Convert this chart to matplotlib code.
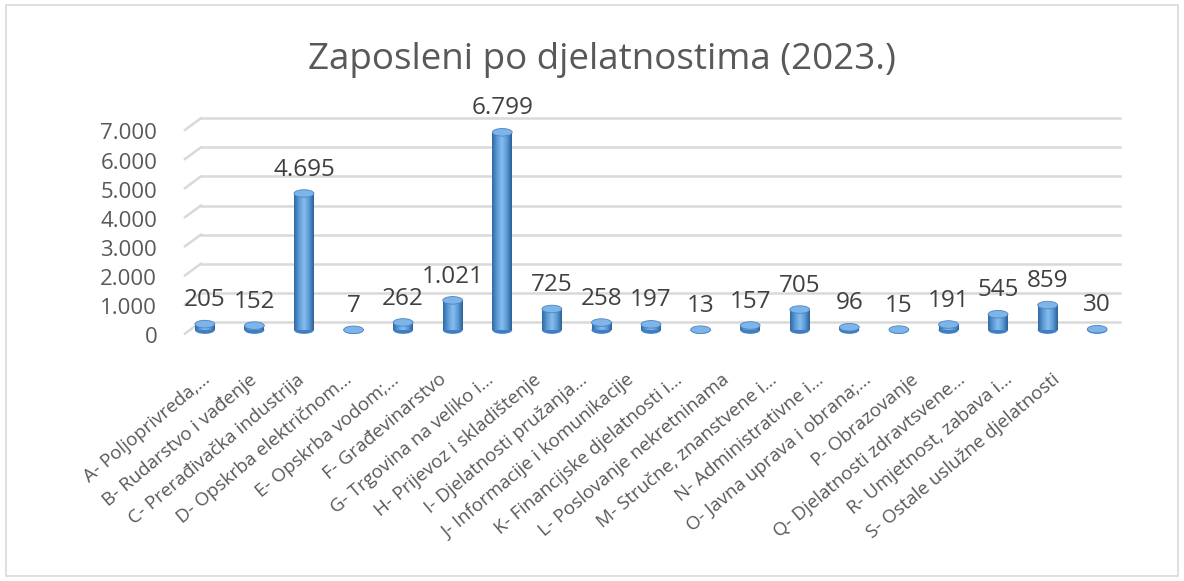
import numpy as np
import matplotlib.pyplot as plt
import matplotlib.transforms as mtransforms
from matplotlib.patches import Ellipse, Rectangle
from matplotlib.colors import LinearSegmentedColormap

categories = [
    "A- Poljoprivreda,…", "B- Rudarstvo i vađenje", "C- Prerađivačka industrija",
    "D- Opskrba električnom…", "E- Opskrba vodom;…", "F- Građevinarstvo",
    "G- Trgovina na veliko i…", "H- Prijevoz i skladištenje", "I- Djelatnosti pružanja…",
    "J- Informacije i komunikacije", "K- Financijske djelatnosti i…",
    "L- Poslovanje nekretninama", "M- Stručne, znanstvene i…",
    "N- Administrativne i…", "O- Javna uprava i obrana;…", "P- Obrazovanje",
    "Q- Djelatnosti zdravtsvene…", "R- Umjetnost, zabava i…", "S- Ostale uslužne djelatnosti",
]
employees = [205, 152, 4695, 7, 262, 1021, 6799, 725, 258, 197, 13, 157, 705, 96, 15, 191, 545, 859, 30]
y_ticks = [0, 1000, 2000, 3000, 4000, 5000, 6000, 7000]

text_color = "#595959"
plt.rcParams['font.family'] = ['Open Sans', 'DejaVu Sans']


def fmt(v):
    return f"{v:,}".replace(",", ".")


fig = plt.figure(figsize=(11.84, 5.81), dpi=100)
fig.patches.append(Rectangle((0.005, 0.008), 0.99, 0.984, transform=fig.transFigure,
                             fill=False, edgecolor="#d9d9d9", linewidth=1.2))

ax = fig.add_axes([185 / 1184, 0.4244, (1120 - 185) / 1184, 0.378])
ax.set_xlim(-0.40, 18.46)
ax.set_ylim(-150, 7400)

# floor/back grid with a small slant to imitate the 3D look
for v in y_ticks:
    ax.plot([-0.40, -0.08], [v - 120, v + 280], color="#d9d9d9", lw=1.8, clip_on=False, zorder=0)
    ax.plot([-0.08, 18.46], [v + 280, v + 280], color="#d9d9d9", lw=1.8, clip_on=False, zorder=0)

cyl = LinearSegmentedColormap.from_list("cyl", ["#2f6aa6", "#5b9bd5", "#86bdf0", "#5b9bd5", "#2c5f96"])
grad = np.linspace(0, 1, 64).reshape(1, -1)
w = 0.40
eh = 260

x = np.arange(len(categories))
for xi, v in zip(x, employees):
    ax.add_patch(Ellipse((xi, 0), w, eh, facecolor="#3f7ebf", edgecolor="none", zorder=2))
    ax.imshow(grad, cmap=cyl, extent=[xi - w / 2, xi + w / 2, 0, v], aspect="auto", zorder=3)
    ax.add_patch(Ellipse((xi, v), w, eh, facecolor="#7fb4e8", edgecolor="#4a86c5", lw=0.6, zorder=4))
    ax.text(xi, v + 820, fmt(v), ha="center", va="center", fontsize=17.5, color="#404040", zorder=5)

ax.set_xlim(-0.40, 18.46)
ax.set_ylim(-150, 7400)

ax.set_yticks(y_ticks)
ax.set_yticklabels([fmt(v) for v in y_ticks], fontsize=16, color=text_color)
# the front category axis is a bit narrower than the bar row (3D perspective)
ax.set_xticks(-0.057 + 0.952 * x)
ax.set_xticklabels(categories, rotation=40, ha="right", rotation_mode="anchor",
                   fontsize=13.5, color=text_color)
ax.tick_params(axis="y", length=0, pad=20)
ax.tick_params(axis="x", length=0, pad=26)
shift = mtransforms.ScaledTranslation(0, -5 / 100, fig.dpi_scale_trans)
for lbl in ax.get_yticklabels():
    lbl.set_transform(lbl.get_transform() + shift)
for s in ax.spines.values():
    s.set_visible(False)

fig.text(602 / 1184, 0.897, "Zaposleni po djelatnostima (2023.)", ha="center", va="center",
         fontsize=26.5, color=text_color)

fig.savefig("out.png", dpi=100)
